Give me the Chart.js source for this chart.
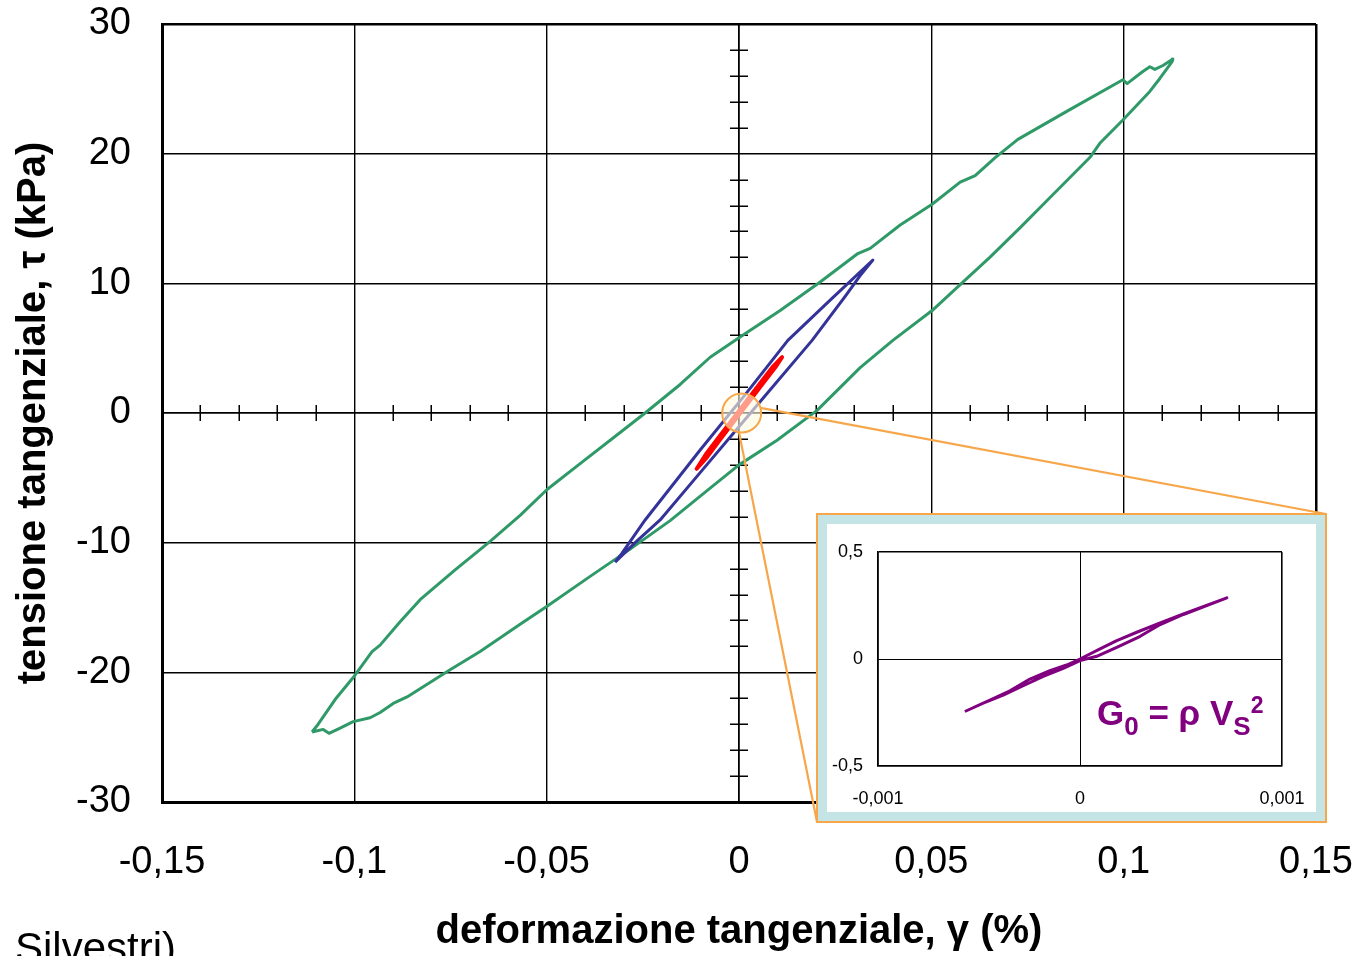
<!DOCTYPE html>
<html>
<head>
<meta charset="utf-8">
<script src="https://cdn.jsdelivr.net/npm/chart.js@4.4.1/dist/chart.umd.min.js"></script>
<style>
html,body{margin:0;padding:0;background:#fff;overflow:hidden}
#wrap{position:relative;width:1360px;height:956px;overflow:hidden}
#main{position:absolute;left:0;top:0}
#inset{position:absolute;left:816px;top:513px;width:511px;height:310px;box-sizing:border-box;border:2px solid #f7a64a;background:#fff}
#insetInner{position:absolute;left:0;top:0;width:507px;height:306px;box-sizing:border-box;border:9px solid #c4e4e6}
#c2{position:absolute;left:0;top:0}
#credit{position:absolute;left:15px;top:927px;font:42px 'Liberation Sans',Arial,sans-serif;line-height:42px;color:#000;white-space:nowrap}
</style>
</head>
<body>
<div id="wrap">
  <canvas id="main" width="1360" height="956"></canvas>
  <div id="inset"><div id="insetInner"><canvas id="c2" width="489" height="288"></canvas></div></div>
  <div id="credit">Silvestri)</div>
</div>
<script>
// ---------------- DATA ----------------
// main chart: shear strain gamma (%) vs shear stress tau (kPa)
const greenGamma = [-0.1110,-0.1094,-0.1050,-0.1003,-0.0954,-0.0933,-0.0881,-0.0829,-0.0738,-0.0647,-0.0569,-0.0499,-0.0413,-0.0309,-0.0244,-0.0153,-0.0075,0,0.0107,0.0211,0.0309,0.0341,0.0419,0.0502,0.0575,0.0614,0.0666,0.0725,0.0860,0.0998,0.1009,0.1048,0.1068,0.1081,0.1102,0.1128,
                    0.1126,0.1094,0.1068,0.0998,0.0938,0.0912,0.0808,0.0731,0.0652,0.0575,0.0502,0.0400,0.0315,0.0203,0.0099,0,-0.0075,-0.0179,-0.0283,-0.0387,-0.0499,-0.0569,-0.0673,-0.0751,-0.0863,-0.0899,-0.0933,-0.0959,-0.1003,-0.1037,-0.1066,-0.1081,-0.1110];
const greenTau = [-24.6,-24.0,-22.1,-20.4,-18.4,-17.9,-16.1,-14.4,-12.1,-9.9,-7.9,-5.9,-3.9,-1.5,0,2.2,4.3,5.8,7.9,10.1,12.3,12.7,14.5,16.1,17.8,18.3,19.7,21.1,23.4,25.7,25.4,26.3,26.7,26.5,26.8,27.3,
                  27.1,25.8,24.8,22.6,20.8,19.7,16.6,14.3,12.0,9.9,7.9,5.6,3.5,0.2,-2.1,-4.0,-5.8,-8.3,-10.5,-12.6,-14.9,-16.3,-18.4,-19.8,-21.9,-22.4,-23.1,-23.5,-23.8,-24.3,-24.7,-24.4,-24.6];

const blueGamma = [-0.0322,-0.0304,-0.0244,-0.0101,0.0013,0.0127,0.0237,0.0348,0.0315,0.0276,0.0190,0.0047,-0.0101,-0.0205,-0.0270,-0.0322];
const blueTau   = [-11.5,-10.8,-8.25,-2.85,1.3,5.6,8.7,11.8,10.6,9.0,5.6,0.6,-4.6,-8.25,-10.0,-11.5];

const redGamma = [-0.0110,-0.0084,-0.0048,-0.0013,0.0024,0.0055,0.0089,0.0112,0.0094,0.0055,0.0019,-0.0017,-0.0053,-0.0083,-0.0110];
const redTau   = [-4.3,-3.1,-1.7,-0.35,1.1,2.3,3.6,4.3,3.5,2.0,0.6,-0.8,-2.2,-3.4,-4.3];

// inset chart (very small strains)
const purpleGamma = [-0.000570,-0.000446,-0.000347,-0.000248,-0.000149,-0.0000661,0,0.0000992,0.000182,0.000281,0.000397,0.000512,0.000727,
                     0.000512,0.000397,0.000298,0.000182,0.0000826,0,-0.0000826,-0.000182,-0.000281,-0.000380,-0.000479,-0.000570];
const purpleTau   = [-0.2453,-0.1922,-0.1484,-0.0938,-0.0547,-0.0281,0,0.0469,0.0859,0.125,0.169,0.211,0.286,
                     0.208,0.161,0.106,0.0547,0.0125,-0.0078,-0.0438,-0.0813,-0.125,-0.169,-0.206,-0.2453];

// tick values and labels
const xTickValues = [-0.15,-0.1,-0.05,0,0.05,0.1,0.15];
const xTickLabels = ['-0,15','-0,1','-0,05','0','0,05','0,1','0,15'];
const yTickValues = [-30,-20,-10,0,10,20,30];
const yTickLabels = ['-30','-20','-10','0','10','20','30'];
const xMinorTicks = [-0.14,-0.13,-0.12,-0.11,-0.09,-0.08,-0.07,-0.06,-0.04,-0.03,-0.02,-0.01,0.01,0.02,0.03,0.04,0.06,0.07,0.08,0.09,0.11,0.12,0.13,0.14];
const yMinorTicks = [-28,-26,-24,-22,-18,-16,-14,-12,-8,-6,-4,-2,2,4,6,8,12,14,16,18,22,24,26,28];

const insetXTickValues = [-0.001,0,0.001];
const insetXTickLabels = ['-0,001','0','0,001'];
const insetYTickValues = [-0.5,0,0.5];
const insetYTickLabels = ['-0,5','0','0,5'];

const xTitle = 'deformazione tangenziale, \u03B3 (%)';
const yTitle = 'tensione tangenziale, \u03C4 (kPa)';
const zoomCenter = [0.0007, 0];

// ---------------- CHARTS ----------------
const FONT = "'Liberation Sans', Arial, Helvetica, sans-serif";
Chart.defaults.font.family = FONT;
Chart.defaults.color = '#000';

const pts = (xs, ys) => xs.map((x, i) => ({x: x, y: ys[i]}));

const GREEN = '#2f9a68', BLUE = '#33339a', RED = '#ff0000', PURPLE = '#800080', ORANGE = '#f7a64a';

const overlay = {
  id: 'overlay',
  beforeDatasetsDraw(chart) {
    const {ctx, scales: {x, y}} = chart;
    const x0 = x.getPixelForValue(0), y0 = y.getPixelForValue(0);
    ctx.save();
    ctx.strokeStyle = '#000';
    ctx.lineWidth = 1.5;
    ctx.beginPath();
    xMinorTicks.forEach(v => { const px = Math.round(x.getPixelForValue(v)) + 0.25; ctx.moveTo(px, y0 - 8); ctx.lineTo(px, y0 + 8); });
    yMinorTicks.forEach(v => { const py = Math.round(y.getPixelForValue(v)) + 0.25; ctx.moveTo(x0 - 9, py); ctx.lineTo(x0 + 9, py); });
    ctx.stroke();
    ctx.restore();
  },
  afterDatasetsDraw(chart) {
    const {ctx, scales: {x, y}} = chart;
    const cx = x.getPixelForValue(zoomCenter[0]), cy = y.getPixelForValue(zoomCenter[1]);
    const r = 19.5;
    const box = document.getElementById('inset').getBoundingClientRect();
    const cvs = chart.canvas.getBoundingClientRect();
    const tr = [box.right - cvs.left - 1, box.top - cvs.top + 1];
    const bl = [box.left - cvs.left + 1, box.bottom - cvs.top - 1];
    ctx.save();
    ctx.strokeStyle = ORANGE;
    ctx.lineWidth = 2.2;
    ctx.beginPath();
    const a1 = -15 * Math.PI / 180;
    ctx.moveTo(cx + r * Math.cos(a1), cy + r * Math.sin(a1));
    ctx.lineTo(tr[0], tr[1]);
    const a2 = 98 * Math.PI / 180;
    ctx.moveTo(cx + r * Math.cos(a2), cy + r * Math.sin(a2));
    ctx.lineTo(bl[0], bl[1]);
    ctx.stroke();
    ctx.beginPath();
    ctx.arc(cx, cy, r, 0, Math.PI * 2);
    ctx.fillStyle = 'rgba(255,250,222,0.62)';
    ctx.fill();
    ctx.lineWidth = 2;
    ctx.stroke();
    ctx.restore();
  }
};

const gridW = (c, lo, hi, inner, edge, zero) => {
  const v = c.tick ? c.tick.value : null;
  if (v === lo || v === hi) return edge;
  if (v === 0) return zero;
  return inner;
};

// remove the automatic label-overflow padding so layout.padding fixes the plot area
const fixX = h => s => { s.height = h; s.paddingLeft = 0; s.paddingRight = 0; };
const fixY = w => s => { s.width = w; s.paddingTop = 0; s.paddingBottom = 0; };

new Chart(document.getElementById('main'), {
  type: 'scatter',
  data: {
    datasets: [
      {data: pts(redGamma, redTau), borderColor: RED, borderWidth: 4, showLine: true, pointRadius: 0, tension: 0, borderJoinStyle: 'round', borderCapStyle: 'round'},
      {data: pts(blueGamma, blueTau), borderColor: BLUE, borderWidth: 3, showLine: true, pointRadius: 0, tension: 0, borderJoinStyle: 'round'},
      {data: pts(greenGamma, greenTau), borderColor: GREEN, borderWidth: 3, showLine: true, pointRadius: 0, tension: 0, borderJoinStyle: 'round'}
    ]
  },
  options: {
    responsive: false,
    animation: false,
    events: [],
    layout: {padding: {top: 24, right: 44, left: 0, bottom: 0}},
    plugins: {legend: {display: false}, tooltip: {enabled: false}},
    scales: {
      x: {
        type: 'linear', min: -0.15, max: 0.15,
        afterBuildTicks: s => { s.ticks = xTickValues.map(v => ({value: v})); },
        afterFit: fixX(154),
        ticks: {font: {size: 38}, color: '#000', padding: 38, maxRotation: 0, autoSkip: false, callback: (v, i) => xTickLabels[i]},
        grid: {color: '#000', drawTicks: false, lineWidth: c => gridW(c, -0.15, 0.15, 1.4, 2.5, 1.8)},
        border: {color: '#000', width: 3},
        title: {display: true, text: xTitle, font: {size: 40, weight: 'bold'}, color: '#000', padding: {top: 0, bottom: 0}}
      },
      y: {
        type: 'linear', min: -30, max: 30,
        afterBuildTicks: s => { s.ticks = yTickValues.map(v => ({value: v})); },
        afterFit: fixY(162),
        ticks: {font: {size: 38}, color: '#000', padding: 31, autoSkip: false, callback: (v, i) => yTickLabels[i]},
        grid: {color: '#000', drawTicks: false, lineWidth: c => gridW(c, -30, 30, 1.4, 2.5, 1.8)},
        border: {color: '#000', width: 3},
        title: {display: true, text: yTitle, font: {size: 40, weight: 'bold'}, color: '#000', padding: {top: 10, bottom: 0}}
      }
    }
  },
  plugins: [overlay]
});

const formula = {
  id: 'formula',
  afterDraw(chart) {
    const {ctx, chartArea} = chart;
    let x = chartArea.left + 219;
    const base = chartArea.bottom - 41;
    const parts = [
      ['G', 35, 0], ['0', 26, 10], [' = \u03C1 V', 35, 0], ['S', 26, 10], ['2', 23, -12]
    ];
    ctx.save();
    ctx.fillStyle = PURPLE;
    ctx.textBaseline = 'alphabetic';
    ctx.textAlign = 'left';
    parts.forEach(([t, sz, dy]) => {
      ctx.font = 'bold ' + sz + 'px ' + FONT;
      ctx.fillText(t, x, base + dy);
      x += ctx.measureText(t).width;
    });
    ctx.restore();
  }
};

new Chart(document.getElementById('c2'), {
  type: 'scatter',
  data: {
    datasets: [
      {data: pts(purpleGamma, purpleTau), borderColor: PURPLE, borderWidth: 3, showLine: true, pointRadius: 0, tension: 0, borderJoinStyle: 'round'}
    ]
  },
  options: {
    responsive: false,
    animation: false,
    events: [],
    layout: {padding: {top: 28, right: 34, left: 0, bottom: 0}},
    plugins: {legend: {display: false}, tooltip: {enabled: false}},
    scales: {
      x: {
        type: 'linear', min: -0.001, max: 0.001,
        afterBuildTicks: s => { s.ticks = insetXTickValues.map(v => ({value: v})); },
        afterFit: fixX(46),
        ticks: {font: {size: 18}, color: '#000', padding: 22, maxRotation: 0, autoSkip: false, callback: (v, i) => insetXTickLabels[i]},
        grid: {color: '#000', drawTicks: false, lineWidth: c => gridW(c, -0.001, 0.001, 1, 1.6, 1)},
        border: {color: '#000', width: 1.6}
      },
      y: {
        type: 'linear', min: -0.5, max: 0.5,
        afterBuildTicks: s => { s.ticks = insetYTickValues.map(v => ({value: v})); },
        afterFit: fixY(51),
        ticks: {font: {size: 18}, color: '#000', padding: 15, autoSkip: false, callback: (v, i) => insetYTickLabels[i]},
        grid: {color: '#000', drawTicks: false, lineWidth: c => gridW(c, -0.5, 0.5, 1, 1.6, 1)},
        border: {color: '#000', width: 1.6}
      }
    }
  },
  plugins: [formula]
});
</script>
</body>
</html>
